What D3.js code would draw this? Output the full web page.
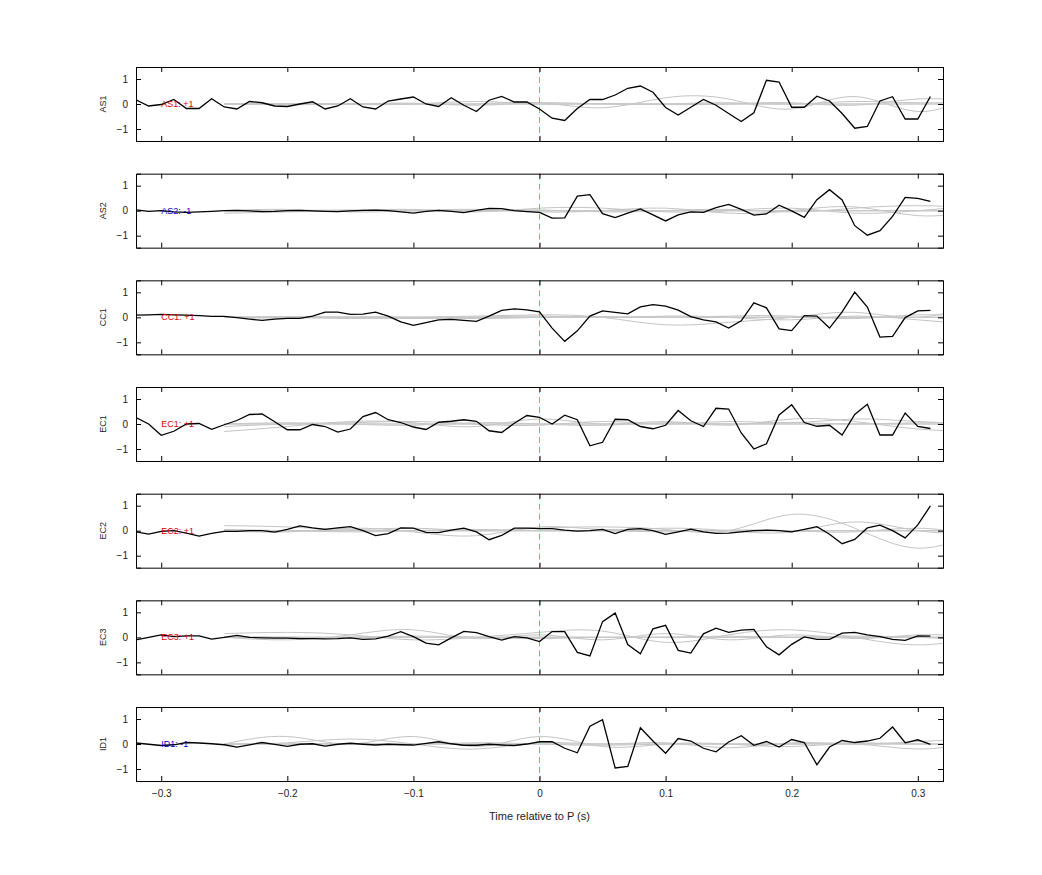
<!DOCTYPE html>
<meta charset="utf-8">
<style>
body{margin:0;background:#fff;}
text{font-family:"Liberation Sans",Arial,sans-serif;}
.tick text{font-size:10px;fill:#222;}
.domain{stroke:#000;}
.tick line{stroke:#000;}
.chan{font-size:9px;fill:#222;}
</style>
<body>
<script src="https://d3js.org/d3.v7.min.js"></script>
<script>

var channels=["AS1","AS2","CC1","EC1","EC2","EC3","ID1"];
var signs=["+1","-1","+1","+1","+1","+1","-1"];

// black traces, samples every 0.01 s from -0.32 to 0.31
var t0=-0.32, dt=0.01;
var traces=[
[0.17,-0.08,-0.02,0.18,-0.18,-0.18,0.21,-0.12,-0.2,0.1,0.05,-0.08,-0.1,0,0.09,-0.2,-0.08,0.21,-0.12,-0.2,0.12,0.2,0.28,0,-0.1,0.25,-0.05,-0.3,0.15,0.3,0.08,0.08,
 -0.2,-0.57,-0.66,-0.18,0.18,0.18,0.36,0.63,0.72,0.47,-0.14,-0.44,-0.13,0.18,-0.05,-0.38,-0.7,-0.35,0.95,0.88,-0.13,-0.13,0.31,0.12,-0.38,-0.97,-0.9,0.12,0.29,-0.6,-0.6,0.3],
[0.03,-0.03,0,-0.05,-0.07,-0.05,-0.03,0,0.01,-0.01,-0.04,-0.03,0,0.01,-0.01,-0.03,-0.04,-0.01,0.01,0.02,0,-0.05,-0.1,-0.03,0.01,-0.03,-0.08,0.01,0.09,0.08,0,-0.04,
 -0.07,-0.3,-0.29,0.58,0.64,-0.12,-0.28,-0.1,0.07,-0.17,-0.41,-0.17,-0.05,-0.07,0.12,0.25,0.05,-0.18,-0.13,0.22,-0.01,-0.27,0.44,0.84,0.43,-0.6,-0.98,-0.8,-0.23,0.53,0.49,0.37],
[0.09,0.1,0.12,0.1,0.09,0.07,0.04,0.04,-0.01,-0.07,-0.12,-0.07,-0.04,-0.04,0.05,0.21,0.21,0.12,0.13,0.21,0.05,-0.18,-0.32,-0.21,-0.1,-0.08,-0.12,-0.16,0.05,0.28,0.34,0.3,
 0.22,-0.43,-0.96,-0.54,0.05,0.26,0.2,0.14,0.42,0.51,0.45,0.29,0.03,-0.1,-0.18,-0.43,-0.14,0.58,0.38,-0.46,-0.53,0.07,0.05,-0.43,0.22,1.01,0.41,-0.79,-0.76,-0.01,0.26,0.28],
[0.26,0,-0.45,-0.29,0,0.02,-0.21,-0.03,0.14,0.38,0.4,0.09,-0.23,-0.23,-0.02,-0.1,-0.32,-0.2,0.3,0.46,0.17,0.06,-0.12,-0.22,0.07,0.11,0.17,0.11,-0.27,-0.34,0.03,0.34,
 0.27,0,0.35,0.17,-0.87,-0.73,0.19,0.17,-0.1,-0.19,-0.05,0.54,0.13,-0.1,0.63,0.6,-0.36,-1.0,-0.79,0.36,0.77,0.06,-0.09,-0.05,-0.44,0.38,0.79,-0.44,-0.44,0.44,-0.1,-0.18],
[-0.05,-0.14,-0.03,0,-0.1,-0.22,-0.11,-0.03,-0.03,0,0,-0.06,0.05,0.19,0.11,0.05,0.11,0.16,0,-0.2,-0.12,0.11,0.1,-0.07,-0.08,0.02,0.1,-0.05,-0.36,-0.19,0.1,0.1,
 0.08,0.08,0.02,-0.02,0,0.05,-0.12,0.05,0.08,0,-0.15,-0.05,0.06,-0.05,-0.11,-0.1,-0.05,0,0.02,0,-0.05,0.05,0.16,-0.14,-0.52,-0.35,0.11,0.22,0,-0.29,0.23,0.99],
[-0.1,0,0.1,0.03,0.06,0.06,-0.07,0,0.08,0,-0.02,-0.03,-0.03,-0.05,-0.05,-0.06,-0.05,-0.02,-0.08,-0.06,0.05,0.23,0.03,-0.23,-0.3,-0.02,0.24,0.19,0.03,-0.11,0.03,-0.02,
 -0.17,0.23,0.23,-0.6,-0.74,0.63,0.97,-0.29,-0.66,0.34,0.48,-0.52,-0.63,0.14,0.37,0.2,0.29,0.32,-0.38,-0.7,-0.28,0.02,-0.08,-0.08,0.17,0.2,0.1,0.03,-0.08,-0.12,0.06,0.05],
[0.04,-0.01,-0.06,-0.03,0.06,0.04,0.01,-0.03,-0.12,-0.03,0.06,-0.01,-0.09,-0.01,0.01,-0.08,-0.01,0.03,-0.01,-0.04,-0.01,-0.03,-0.04,0.03,0.09,0.01,-0.05,-0.05,-0.01,-0.04,-0.06,0,
 0.09,0.09,-0.17,-0.35,0.71,0.97,-0.96,-0.9,0.65,0.12,-0.37,0.22,0.12,-0.17,-0.31,0.08,0.33,-0.05,0.1,-0.12,0.18,0.06,-0.83,-0.12,0.14,0.06,0.12,0.23,0.68,0.05,0.17,-0.01]
];

// grey comparison traces, knots every 0.05 s from -0.25 to 0.35
var g0=-0.25, gdt=0.05;
var greys=[
[[0,0,0.02,0,0,0.05,-0.15,0.25,0.2,-0.2,0.3,-0.3,0.5],[0,-0.03,0,0.03,-0.05,0.05,0,0,0.05,0,0.1,0.05,0.1],[0,0.02,-0.02,0,0.1,0,0.02,-0.02,0,0.05,-0.05,0.2,0.1]],
[[-0.1,-0.05,0,0.05,-0.05,0.1,0.1,-0.05,0,0.1,-0.1,0,0.2],[0,0.05,-0.05,0,0.05,-0.05,0,0.1,-0.1,0,0.15,-0.2,0],[0,0,0.03,0,0,0.03,-0.05,0,0.05,-0.05,0.1,0.2,0.1]],
[[0,0,-0.05,0,0.05,0.1,0,-0.3,-0.2,0,0.2,0,0.6],[0,0.03,0,-0.05,0,0.05,0,0.05,0,-0.1,0.05,-0.1,-0.3],[0,-0.03,0.02,0,-0.05,0,0.03,0,0.05,0.05,-0.05,0.1,0]],
[[-0.3,-0.1,0.1,0.05,-0.1,0.2,0,0.1,-0.05,0.2,0.1,-0.2,-0.3],[-0.1,0,0.05,0.1,0,-0.05,0.1,0,0.1,0.05,0.2,0.1,0],[0,0.05,0,-0.05,0.05,0,-0.05,0.05,0,0.05,0,0.05,0]],
[[0.2,0.15,0.05,0.1,0,0.1,0.15,0.05,0,0.65,0.1,-0.7,0],[0,-0.05,0.1,-0.05,-0.2,0.15,0.05,0.1,0,-0.05,0.35,0,-0.1],[0.05,0,-0.05,0,0.05,0,0,-0.05,0.02,0,-0.05,0.1,-0.2]],
[[0.15,0.2,0.1,-0.1,0,0.2,0.25,-0.2,0.1,0.3,0,-0.3,0],[0,-0.1,0.1,0.3,-0.05,0.1,-0.1,0.15,-0.1,0.1,-0.05,0.1,0],[0.02,0,0,0.05,0,-0.05,0,0,0.05,0,0.05,0,-0.1]],
[[0,0.3,0,0.3,-0.1,0.3,-0.1,0,0,-0.1,0,-0.2,0.1],[0,0.05,0.2,0,-0.2,0.05,0,0.05,-0.15,0.05,0,0.1,0.2],[0,0,0.02,0,0.05,0,-0.05,0,0,0,0.05,0,0]]
];

var xTicks=[-0.3,-0.2,-0.1,0,0.1,0.2,0.3];
var yTicks=[-1,0,1];

var W=1042,H=875;
var left=136,right=943,top0=67,ph=74,gap=106.67;

var svg=d3.select("body").append("svg").attr("width",W).attr("height",H);

var x=d3.scaleLinear().domain([-0.32,0.32]).range([left,right]);
var y=d3.scaleLinear().domain([-1.48,1.48]).range([ph,0]);

svg.append("defs").append("clipPath").attr("id","clip")
	.append("rect").attr("x",left).attr("y",0).attr("width",right-left).attr("height",ph);

channels.forEach(function(name,i){
	var g=svg.append("g").attr("transform","translate(0,"+(top0+i*gap)+")");
	var plot=g.append("g").attr("clip-path","url(#clip)");

	var gl=d3.line().x((d,k)=>x(g0+k*gdt)).y(d=>y(d)).curve(d3.curveNatural);
	greys[i].forEach(function(s){
		plot.append("path").attr("d",gl(s)).attr("fill","none").attr("stroke","#c4c4c4").attr("stroke-width",1);
	});
	// flat grey baseline band
	plot.append("path").attr("d",gl(greys[i][0].map(()=>0))).attr("fill","none").attr("stroke","#c8c8c8").attr("stroke-width",1.5);

	plot.append("line").attr("x1",x(0)).attr("x2",x(0)).attr("y1",0).attr("y2",ph)
		.attr("stroke","#f08080").attr("stroke-dasharray","6,4");

	var bl=d3.line().x((d,k)=>x(t0+k*dt)).y(d=>y(d));
	plot.append("path").attr("d",bl(traces[i])).attr("fill","none").attr("stroke","#000").attr("stroke-width",1.3);

	g.append("text").attr("class","chan").attr("x",x(-0.3)).attr("y",y(0)+3)
		.style("fill",signs[i]=="+1"?"#d00":"#00c")
		.text(name+": "+signs[i]);

	g.append("g").attr("transform","translate("+left+",0)")
		.call(d3.axisLeft(y).tickValues(yTicks).tickSize(-5).tickPadding(8).tickFormat(d3.format("d")));
	g.append("g").attr("transform","translate("+right+",0)")
		.call(d3.axisRight(y).tickValues(yTicks).tickSize(-5).tickFormat(""));
	g.append("g").call(d3.axisTop(x).tickValues(xTicks).tickSize(-5).tickFormat(""));
	g.append("g").attr("transform","translate(0,"+ph+")")
		.call(d3.axisBottom(x).tickValues(xTicks).tickSize(-5).tickPadding(9)
			.tickFormat(i==channels.length-1?(d=>d==0?"0":d3.format(".1f")(d)):""));

	g.append("text").attr("class","chan").attr("transform","translate(106,"+y(0)+") rotate(-90)")
		.attr("text-anchor","middle").text(name);
});

svg.selectAll(".domain").attr("stroke-width",1);

svg.append("text").attr("x",(left+right)/2).attr("y",820).attr("text-anchor","middle")
	.style("font-size","11px").attr("fill","#222").text("Time relative to P (s)");

</script>
</body>
</html>
